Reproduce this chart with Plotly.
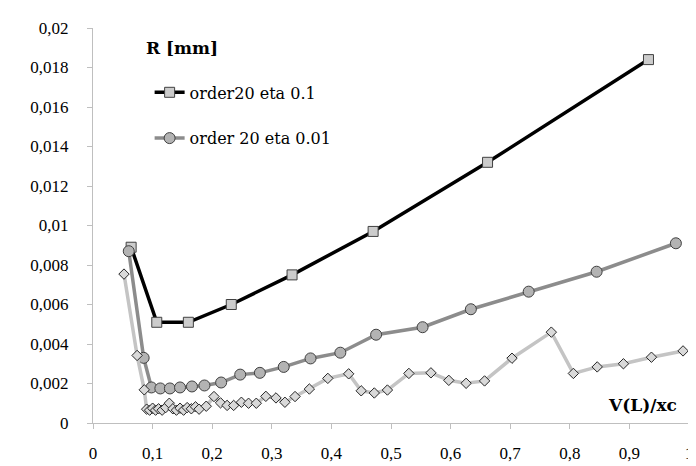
import plotly.graph_objects as go

# ---- data ----
eta01_x = [0.064, 0.107, 0.160, 0.232, 0.334, 0.470, 0.662, 0.932]
eta01_y = [0.0089, 0.0051, 0.0051, 0.0060, 0.0075, 0.0097, 0.0132, 0.0184]

eta001_x = [0.060, 0.085, 0.098, 0.113, 0.129, 0.146, 0.166, 0.187, 0.215, 0.247,
            0.280, 0.320, 0.365, 0.415, 0.475, 0.553, 0.634, 0.731, 0.845, 0.978]
eta001_y = [0.0087, 0.0033, 0.0018, 0.00175, 0.00175, 0.0018, 0.00185, 0.0019, 0.00205, 0.00245,
            0.00254, 0.00284, 0.00327, 0.00356, 0.00447, 0.00485, 0.00576, 0.00665, 0.00766, 0.0091]

third_x = [0.052, 0.074, 0.086, 0.090, 0.095, 0.100, 0.105, 0.110, 0.116, 0.122, 0.128,
           0.134, 0.140, 0.146, 0.152, 0.158, 0.165, 0.172, 0.178, 0.190, 0.203, 0.214,
           0.225, 0.236, 0.249, 0.261, 0.274, 0.290, 0.307, 0.322, 0.339, 0.363, 0.394,
           0.429, 0.450, 0.472, 0.494, 0.530, 0.567, 0.597, 0.626, 0.657, 0.703, 0.769,
           0.806, 0.846, 0.890, 0.937, 0.990]
third_y = [0.00754, 0.00342, 0.00168, 0.00070, 0.00065, 0.00075, 0.00065, 0.00072, 0.00065,
           0.00078, 0.00100, 0.00072, 0.00065, 0.00075, 0.00065, 0.00078, 0.00072, 0.00082,
           0.00070, 0.00085, 0.00134, 0.00102, 0.00089, 0.00089, 0.00105, 0.00100, 0.00100,
           0.00135, 0.00127, 0.00105, 0.00134, 0.00172, 0.00226, 0.00249, 0.00163, 0.00152,
           0.00167, 0.00251, 0.00254, 0.00216, 0.00201, 0.00213, 0.00328, 0.00460, 0.00251,
           0.00284, 0.00300, 0.00333, 0.00365]

x_ticks = [0, 0.1, 0.2, 0.3, 0.4, 0.5, 0.6, 0.7, 0.8, 0.9, 1]
x_ticktext = ["0", "0,1", "0,2", "0,3", "0,4", "0,5", "0,6", "0,7", "0,8", "0,9", "1"]
y_ticks = [0, 0.002, 0.004, 0.006, 0.008, 0.01, 0.012, 0.014, 0.016, 0.018, 0.02]
y_ticktext = ["0", "0,002", "0,004", "0,006", "0,008", "0,01", "0,012", "0,014", "0,016", "0,018", "0,02"]

names = ["order20 eta 0.1", "order 20 eta 0.01"]

fig = go.Figure()
fig.add_trace(go.Scatter(
    x=eta01_x, y=eta01_y, name=names[0], mode="lines+markers", legendgroup="a",
    line=dict(color="#000000", width=3.5),
    marker=dict(symbol="square", size=10, color="#cccccc", line=dict(color="#404040", width=1)),
    cliponaxis=False))
fig.add_trace(go.Scatter(
    x=eta001_x, y=eta001_y, name=names[1], mode="lines+markers", legendgroup="b",
    line=dict(color="#8c8c8c", width=3.5),
    marker=dict(symbol="circle", size=11, color="#b3b3b3", line=dict(color="#404040", width=1)),
    cliponaxis=False))
fig.add_trace(go.Scatter(
    x=third_x, y=third_y, mode="lines+markers", showlegend=False,
    line=dict(color="#c4c4c4", width=3.5),
    marker=dict(symbol="diamond", size=8, color="#d9d9d9", line=dict(color="#262626", width=1)),
    cliponaxis=False))

axis_common = dict(showgrid=False, zeroline=False, showline=True, linecolor="#bfbfbf",
                   linewidth=1, ticks="outside", tickcolor="#bfbfbf", ticklen=5,
                   tickfont=dict(family="Liberation Serif", size=17, color="#000000"))

fig.update_xaxes(range=[0, 1], tickvals=x_ticks, ticktext=x_ticktext,
                 ticklabelstandoff=10, **axis_common)
fig.update_yaxes(range=[0, 0.02], tickvals=y_ticks, ticktext=y_ticktext,
                 ticklabelstandoff=15, **axis_common)

fig.update_layout(
    width=696, height=466,
    margin=dict(l=85, r=11, t=19, b=43),
    paper_bgcolor="white", plot_bgcolor="white",
    showlegend=True,
    legend=dict(x=0.095, y=0.88, xanchor="left", yanchor="top",
                font=dict(family="DejaVu Serif", size=16, color="#000000"),
                bgcolor="rgba(0,0,0,0)", tracegroupgap=22),
    annotations=[
        dict(text="<b>R [mm]</b>", xref="paper", yref="paper", x=0.085, y=0.9505,
             xanchor="left", yanchor="middle", showarrow=False,
             font=dict(family="DejaVu Serif", size=17, color="#000000")),
        dict(text="<b>V(L)/xc</b>", xref="paper", yref="paper", x=0.86, y=0.045,
             xanchor="left", yanchor="middle", showarrow=False,
             font=dict(family="DejaVu Serif", size=17, color="#000000")),
    ],
)

fig.write_html("out.html")
